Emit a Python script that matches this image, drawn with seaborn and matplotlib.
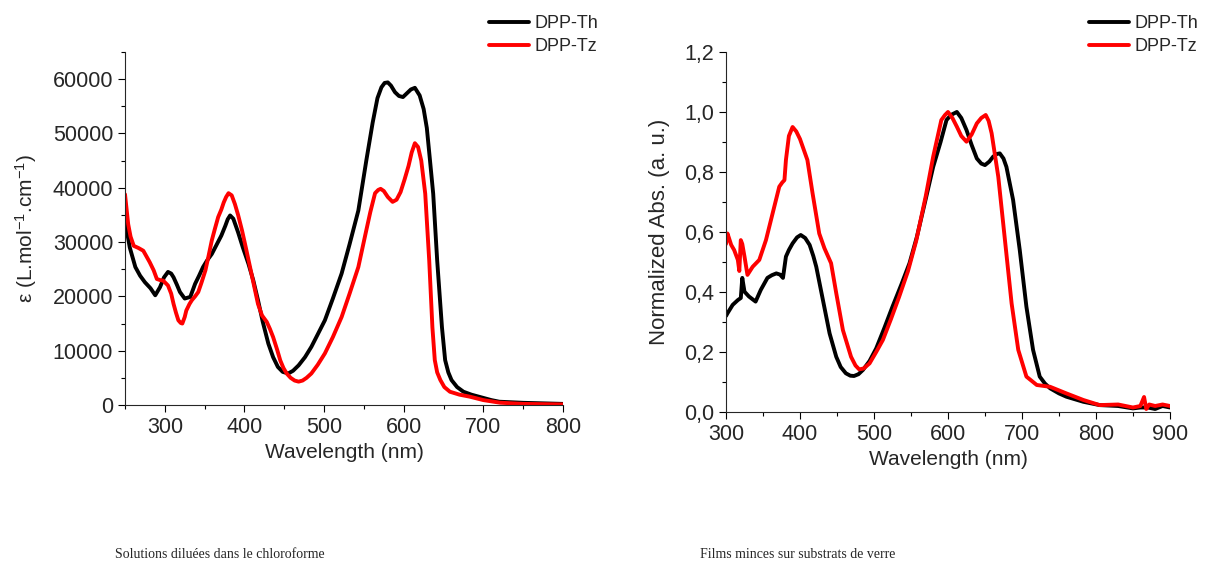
import numpy as np
import pandas as pd
import matplotlib
matplotlib.use('Agg')
import matplotlib.pyplot as plt
from matplotlib.ticker import MultipleLocator, FuncFormatter
import seaborn as sns

# solutions in chloroform (epsilon)
sol_wl_th = [250, 256, 263, 269, 275, 282, 288, 294, 299, 304, 308, 311, 315, 319, 325, 332, 338, 343, 348, 353,
             359, 365, 371, 376, 379, 382, 386, 392, 398, 405, 411, 417, 423, 430, 436, 442, 448, 455, 461, 468,
             476, 484, 492, 501, 511, 522, 532, 543, 553, 561, 567, 572, 576, 580, 584, 589, 594, 599, 604, 609,
             614, 620, 625, 629, 633, 637, 642, 648, 652, 656, 660, 667, 675, 685, 695, 710, 720, 750, 800]
sol_eps_th = [34000, 29000, 25400, 23800, 22600, 21500, 20200, 21700, 23500, 24500, 24200, 23500, 22200, 20800,
              19600, 19900, 22300, 23800, 25400, 26600, 27800, 29500, 31200, 33000, 34200, 34900, 34300, 31800,
              29000, 26000, 23000, 19300, 15300, 11300, 8800, 7000, 6100, 5800, 6300, 7300, 8800, 10700, 13000,
              15600, 19600, 24200, 29600, 35800, 45000, 52000, 56500, 58500, 59300, 59400, 58800, 57600, 56900,
              56700, 57400, 58100, 58400, 57000, 54500, 51000, 45000, 38900, 26600, 14300, 8260, 6000, 4590, 3300,
              2440, 1900, 1500, 900, 600, 400, 200]

sol_wl_tz = [250, 254, 257, 261, 267, 273, 281, 286, 290, 294, 298, 304, 308, 311, 314, 317, 320, 322, 325, 327,
             331, 334, 338, 342, 346, 351, 355, 359, 363, 367, 371, 374, 377, 380, 384, 388, 392, 397, 402, 407,
             412, 417, 422, 428, 432, 436, 441, 445, 449, 453, 458, 463, 468, 473, 478, 484, 492, 501, 511, 522,
             532, 543, 552, 558, 564, 568, 571, 575, 580, 586, 591, 596, 601, 606, 610, 614, 618, 622, 627, 632,
             636, 639, 642, 646, 651, 658, 670, 683, 700, 721, 750, 800]
sol_eps_tz = [38800, 33300, 31000, 29300, 28900, 28400, 26300, 24800, 23200, 23000, 22900, 22000, 20500, 18600,
              17000, 15600, 15100, 15000, 16200, 17400, 18600, 19300, 20000, 20800, 22500, 24800, 27500, 30300,
              32500, 34600, 36000, 37300, 38300, 39000, 38600, 37000, 35000, 32100, 28800, 25400, 22000, 18600,
              16500, 15300, 14000, 12500, 10200, 8200, 6800, 5800, 5000, 4500, 4300, 4500, 5000, 5800, 7400, 9500,
              12500, 16200, 20500, 25400, 31500, 35500, 39000, 39600, 39800, 39400, 38300, 37400, 37800, 39200,
              41500, 44000, 46500, 48200, 47500, 45000, 38900, 26600, 14300, 8260, 6000, 4590, 3300, 2440, 1900,
              1530, 900, 420, 200, 100]

# thin films on glass (normalized)
film_wl_th = [300, 302, 309, 316, 320, 322, 325, 331, 340, 347, 356, 362, 368, 373, 377, 381, 385, 390, 396, 401,
              407, 413, 418, 422, 431, 440, 449, 455, 462, 468, 473, 479, 485, 494, 503, 514, 525, 537, 548, 558,
              569, 580, 590, 598, 604, 612, 618, 625, 632, 639, 645, 650, 656, 661, 666, 670, 675, 679, 688, 697,
              706, 715, 724, 731, 738, 750, 760, 783, 805, 830, 850, 860, 870, 880, 890, 900]
film_abs_th = [0.32, 0.329, 0.357, 0.373, 0.38, 0.447, 0.401, 0.385, 0.368, 0.407, 0.447, 0.456, 0.462, 0.458,
               0.447, 0.518, 0.54, 0.562, 0.582, 0.59, 0.58, 0.557, 0.52, 0.484, 0.373, 0.262, 0.184, 0.15, 0.129,
               0.121, 0.12, 0.126, 0.14, 0.17, 0.212, 0.28, 0.351, 0.425, 0.496, 0.584, 0.7, 0.817, 0.9, 0.973,
               0.99, 1.0, 0.98, 0.94, 0.89, 0.845, 0.828, 0.823, 0.835, 0.851, 0.86, 0.862, 0.845, 0.817, 0.707,
               0.54, 0.351, 0.207, 0.118, 0.095, 0.079, 0.062, 0.051, 0.034, 0.023, 0.02, 0.012, 0.015, 0.015, 0.01,
               0.02, 0.015]

film_wl_tz = [300, 302, 304, 307, 311, 316, 318, 320, 322, 325, 329, 336, 345, 354, 363, 372, 376, 379, 381, 385,
              390, 395, 400, 410, 417, 426, 433, 442, 449, 458, 469, 475, 480, 486, 494, 503, 512, 523, 534, 546,
              557, 570, 580, 591, 596, 600, 606, 612, 618, 625, 632, 639, 645, 651, 655, 659, 668, 677, 686, 695,
              706, 720, 738, 760, 783, 805, 830, 850, 860, 865, 868, 872, 880, 890, 900]
film_abs_tz = [0.56, 0.595, 0.58, 0.557, 0.54, 0.507, 0.47, 0.573, 0.56, 0.518, 0.457, 0.484, 0.507, 0.573,
               0.662, 0.751, 0.765, 0.773, 0.84, 0.92, 0.95, 0.935, 0.91, 0.84, 0.729, 0.595, 0.546, 0.496, 0.396,
               0.273, 0.184, 0.155, 0.142, 0.145, 0.162, 0.2, 0.24, 0.31, 0.384, 0.47, 0.57, 0.72, 0.851, 0.973,
               0.99, 1.0, 0.98, 0.951, 0.92, 0.901, 0.925, 0.962, 0.98, 0.99, 0.97, 0.929, 0.784, 0.573, 0.362,
               0.207, 0.118, 0.09, 0.084, 0.062, 0.04, 0.023, 0.025, 0.015, 0.02, 0.05, 0.01, 0.025, 0.02, 0.025,
               0.02]

labels = ['DPP-Th', 'DPP-Tz']
colors = ['black', '#ff0000']
captions = ['Solutions diluées dans le chloroforme', 'Films minces sur substrats de verre']

sns.set_theme(style='ticks')
plt.rcParams['font.family'] = ['Liberation Sans', 'DejaVu Sans']
plt.rcParams['mathtext.default'] = 'regular'
plt.rcParams['axes.linewidth'] = 0.8

fig = plt.figure(figsize=(12.1, 5.7), dpi=100)
ax1 = fig.add_axes([0.1033, 0.2895, 0.362, 0.6193])
ax2 = fig.add_axes([0.6, 0.2772, 0.3669, 0.6316])

lw = 2.8
for ax, series in [(ax1, [(sol_wl_th, sol_eps_th), (sol_wl_tz, sol_eps_tz)]),
                   (ax2, [(film_wl_th, film_abs_th), (film_wl_tz, film_abs_tz)])]:
    for (x, y), lab, col in zip(series, labels, colors):
        df = pd.DataFrame({'wl': x, 'val': y})
        sns.lineplot(data=df, x='wl', y='val', ax=ax, color=col, lw=lw, label=lab,
                     sort=False, estimator=None)
    sns.despine(ax=ax)
    ax.tick_params(which='major', direction='out', length=5, width=0.8, labelsize=15.5, color='black')
    ax.tick_params(which='minor', direction='out', length=3, width=0.8, color='black')
    ax.xaxis.set_minor_locator(MultipleLocator(50))
    ax.set_xlabel('Wavelength (nm)', fontsize=15)

ax1.set_xlim(250, 800)
ax1.set_ylim(0, 65000)
ax1.xaxis.set_major_locator(MultipleLocator(100))
ax1.yaxis.set_major_locator(MultipleLocator(10000))
ax1.yaxis.set_minor_locator(MultipleLocator(5000))
ax1.set_ylabel(r'ε (L.mol$^{-1}$.cm$^{-1}$)', fontsize=15, labelpad=10)

ax2.set_xlim(300, 900)
ax2.set_ylim(0, 1.2)
ax2.xaxis.set_major_locator(MultipleLocator(100))
ax2.yaxis.set_major_locator(MultipleLocator(0.2))
ax2.yaxis.set_minor_locator(MultipleLocator(0.1))
ax2.yaxis.set_major_formatter(FuncFormatter(lambda v, p: f'{v:.1f}'.replace('.', ',')))
ax2.set_ylabel('Normalized Abs. (a. u.)', fontsize=16, labelpad=10)

for ax, lx in [(ax1, 489 / 1210), (ax2, 1089 / 1210)]:
    ax.legend(loc='upper left', bbox_to_anchor=(lx, 1 - 15 / 570), bbox_transform=fig.transFigure,
              frameon=False, fontsize=13, handlelength=2.2, handletextpad=0.3,
              borderaxespad=0, borderpad=0, labelspacing=0.35)

fig.text(115 / 1210, 1 - 555 / 570, captions[0], family='Liberation Serif', fontsize=10, va='center')
fig.text(700 / 1210, 1 - 555 / 570, captions[1], family='Liberation Serif', fontsize=10, va='center')

fig.savefig('out.png', dpi=100)
